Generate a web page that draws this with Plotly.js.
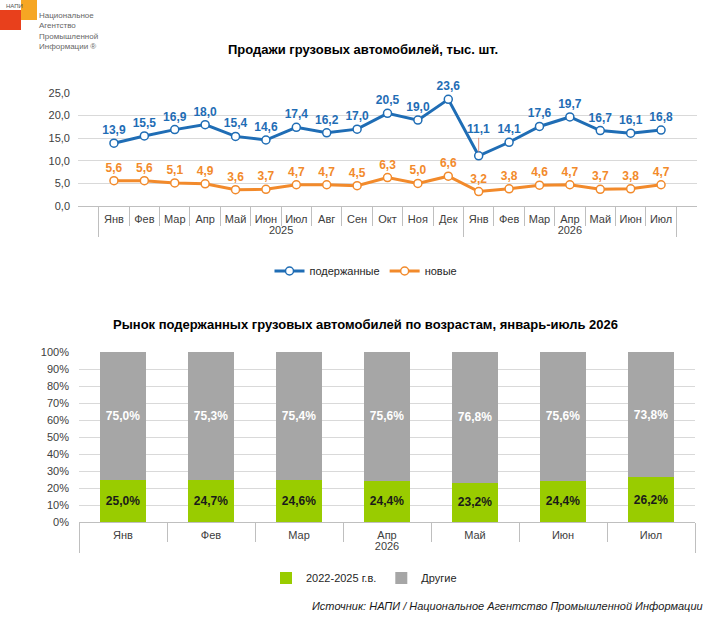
<!DOCTYPE html>
<html>
<head>
<meta charset="utf-8">
<script src="https://cdn.plot.ly/plotly-3.0.1.min.js"></script>
<style>html,body{margin:0;padding:0;background:#fff;}#chart{width:714px;height:622px;}</style>
</head>
<body>
<div id="chart"></div>
<script>
// ---- data ----
const years1 = ["2025","2025","2025","2025","2025","2025","2025","2025","2025","2025","2025","2025","2026","2026","2026","2026","2026","2026","2026"];
const months1 = ["Янв","Фев","Мар","Апр","Май","Июн","Июл","Авг","Сен","Окт","Ноя","Дек","Янв","Фев","Мар","Апр","Май","Июн","Июл"];
const usedSales = [13.9,15.5,16.9,18.0,15.4,14.6,17.4,16.2,17.0,20.5,19.0,23.6,11.1,14.1,17.6,19.7,16.7,16.1,16.8];
const newSales  = [5.6,5.6,5.1,4.9,3.6,3.7,4.7,4.7,4.5,6.3,5.0,6.6,3.2,3.8,4.6,4.7,3.7,3.8,4.7];
const years2 = ["2026","2026","2026","2026","2026","2026","2026"];
const months2 = ["Янв","Фев","Мар","Апр","Май","Июн","Июл"];
const share2022_2025 = [25.0,24.7,24.6,24.4,23.2,24.4,26.2];
const shareOther = [75.0,75.3,75.4,75.6,76.8,75.6,73.8];
const yTicks1 = [0,5,10,15,20,25];
const yTicks2 = [0,10,20,30,40,50,60,70,80,90,100];
const yTickText2 = ["0%","10%","20%","30%","40%","50%","60%","70%","80%","90%","100%"];

const W = 714, H = 622;
const px = v => v / W;
const py = v => 1 - v / H;

const FONT = "Liberation Sans, Arial, sans-serif";
const BLUE = "#1F6DB5", ORANGE = "#F28A2B", GREEN = "#99CC00", GRAY = "#A6A6A6";
const fmt = v => v.toFixed(1).replace(".", ",");

// the lowest point (Jan 2026) carries its label on a leader line, like the original
const calloutIdx = usedSales.indexOf(Math.min(...usedSales));
const usedText = usedSales.map((v, i) => i === calloutIdx ? "" : fmt(v));
const newText = newSales.map(fmt);

const traces = [
  {
    x: [years1, months1], y: usedSales, name: "подержанные", type: "scatter",
    mode: "lines+markers+text", xaxis: "x", yaxis: "y", legend: "legend",
    line: {color: BLUE, width: 3},
    marker: {symbol: "circle", size: 8, color: "#fff", line: {color: BLUE, width: 1.5}},
    text: usedText, texttemplate: "%{text}", textposition: "top center",
    textfont: {family: FONT, size: 12, color: BLUE, weight: "bold"},
    hoverinfo: "skip", cliponaxis: false
  },
  {
    x: [years1, months1], y: newSales, name: "новые", type: "scatter",
    mode: "lines+markers+text", xaxis: "x", yaxis: "y", legend: "legend",
    line: {color: ORANGE, width: 3},
    marker: {symbol: "circle", size: 8, color: "#fff", line: {color: ORANGE, width: 1.5}},
    text: newText, texttemplate: "%{text}", textposition: "top center",
    textfont: {family: FONT, size: 12, color: ORANGE, weight: "bold"},
    hoverinfo: "skip", cliponaxis: false
  },
  {
    x: [years2, months2], y: share2022_2025, name: "2022-2025 г.в.", type: "bar",
    xaxis: "x2", yaxis: "y2", legend: "legend2",
    marker: {color: GREEN},
    texttemplate: "%{y:.1f}%", textposition: "inside", insidetextanchor: "middle",
    textfont: {family: FONT, size: 12, color: "#1a1a1a", weight: "bold"},
    hoverinfo: "skip"
  },
  {
    x: [years2, months2], y: shareOther, name: "Другие", type: "bar",
    xaxis: "x2", yaxis: "y2", legend: "legend2",
    marker: {color: GRAY},
    texttemplate: "%{y:.1f}%", textposition: "inside", insidetextanchor: "middle",
    textfont: {family: FONT, size: 12, color: "#ffffff", weight: "bold"},
    hoverinfo: "skip"
  }
];

const tickFont = {family: FONT, size: 11, color: "#404040"};

const layout = {
  width: W, height: H,
  margin: {l: 0, r: 0, t: 0, b: 0},
  paper_bgcolor: "#fff", plot_bgcolor: "#fff",
  separators: ", ",
  barmode: "stack", bargap: 0.48,
  font: {family: FONT, color: "#404040"},
  showlegend: true,
  xaxis: {
    type: "multicategory", domain: [px(78), px(697)], anchor: "y",
    showline: true, linecolor: "#bfbfbf", linewidth: 1,
    ticks: "outside", ticklen: 19, tickcolor: "#bfbfbf", tickson: "boundaries",
    showdividers: true, dividercolor: "#bfbfbf", dividerwidth: 1, ticklabelstandoff: 3,
    tickangle: 0, tickfont: tickFont, showgrid: false, zeroline: false, fixedrange: true
  },
  yaxis: {
    domain: [py(206), py(93)], anchor: "x", range: [0, 25],
    tickmode: "array", tickvals: yTicks1, tickformat: ".1f", ticklabelstandoff: 7,
    showgrid: true, gridcolor: "#d9d9d9", zeroline: false, showline: false,
    tickfont: tickFont, ticks: "", fixedrange: true
  },
  xaxis2: {
    type: "multicategory", domain: [px(79), px(695)], anchor: "y2",
    showline: true, linecolor: "#bfbfbf", linewidth: 1,
    ticks: "outside", ticklen: 19, tickcolor: "#bfbfbf", tickson: "boundaries",
    showdividers: true, dividercolor: "#bfbfbf", dividerwidth: 1, ticklabelstandoff: 3,
    tickangle: 0, tickfont: tickFont, showgrid: false, zeroline: false, fixedrange: true
  },
  yaxis2: {
    domain: [py(522), py(352)], anchor: "x2", range: [0, 100],
    tickmode: "array", tickvals: yTicks2, ticktext: yTickText2, ticklabelstandoff: 9,
    showgrid: true, gridcolor: "#d9d9d9", zeroline: false, showline: false,
    tickfont: tickFont, ticks: "", fixedrange: true
  },
  legend: {
    orientation: "h", x: px(366), xanchor: "center", y: py(271), yanchor: "middle",
    font: {family: FONT, size: 11, color: "#262626"}, bgcolor: "rgba(0,0,0,0)",
    itemwidth: 30, tracegroupgap: 0, traceorder: "normal"
  },
  legend2: {
    orientation: "h", x: px(364), xanchor: "center", y: py(578), yanchor: "middle",
    font: {family: FONT, size: 11, color: "#262626"}, bgcolor: "rgba(0,0,0,0)",
    itemwidth: 30, tracegroupgap: 0, traceorder: "normal"
  },
  annotations: [
    {text: "<b>" + fmt(usedSales[calloutIdx]) + "</b>", xref: "x", yref: "y",
     x: calloutIdx, y: usedSales[calloutIdx], ax: 0, ay: -18, showarrow: true,
     arrowhead: 0, arrowwidth: 0.8, arrowcolor: "#E07A5F", standoff: 4, yanchor: "bottom",
     font: {family: FONT, size: 12, color: BLUE}},
    {text: "<b>Продажи грузовых автомобилей, тыс. шт.</b>", xref: "paper", yref: "paper",
     x: px(363), y: py(50), xanchor: "center", yanchor: "middle", showarrow: false,
     font: {family: FONT, size: 13, color: "#000"}},
    {text: "<b>Рынок подержанных грузовых автомобилей по возрастам, январь-июль 2026</b>", xref: "paper", yref: "paper",
     x: px(365), y: py(324), xanchor: "center", yanchor: "middle", showarrow: false,
     font: {family: FONT, size: 13, color: "#000"}},
    {text: "<i>Источник: НАПИ / Национальное Агентство Промышленной Информации</i>", xref: "paper", yref: "paper",
     x: px(705), y: py(606), xanchor: "right", yanchor: "middle", showarrow: false,
     font: {family: FONT, size: 11, color: "#1a1a1a"}},
    {text: "НАПИ", xref: "paper", yref: "paper", x: px(4), y: py(6), xanchor: "left", yanchor: "middle",
     showarrow: false, font: {family: FONT, size: 6, color: "#555"}},
    {text: "Национальное<br>Агентство<br>Промышленной<br>Информации ®", xref: "paper", yref: "paper",
     x: px(37), y: py(9), xanchor: "left", yanchor: "top", align: "left", showarrow: false,
     font: {family: "Liberation Sans Narrow, Liberation Sans, sans-serif", size: 8, color: "#666"}}
  ],
  shapes: [
    {type: "rect", xref: "paper", yref: "paper", x0: px(0), x1: px(21), y0: py(10), y1: py(30),
     fillcolor: "#E8401C", line: {width: 0}, layer: "below"},
    {type: "rect", xref: "paper", yref: "paper", x0: px(21), x1: px(37), y0: py(0), y1: py(20),
     fillcolor: "#F6A623", line: {width: 0}, layer: "below"}
  ]
};

Plotly.newPlot("chart", traces, layout, {displayModeBar: false, staticPlot: true});
</script>
</body>
</html>
